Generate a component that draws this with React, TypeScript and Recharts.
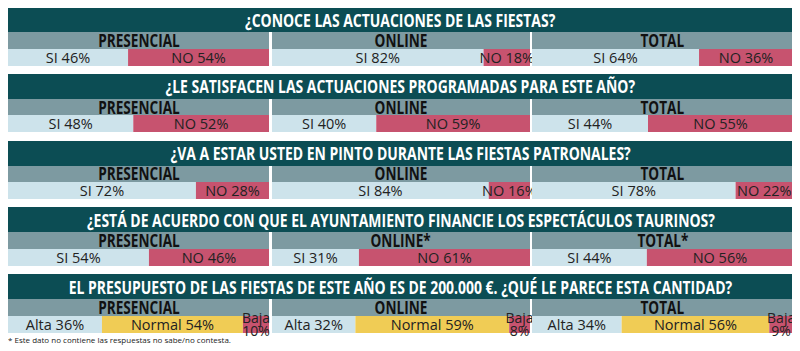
import { BarChart, Bar, XAxis, YAxis, LabelList } from 'recharts';

const QUESTIONS = [
  '¿CONOCE LAS ACTUACIONES DE LAS FIESTAS?',
  '¿LE SATISFACEN LAS ACTUACIONES PROGRAMADAS PARA ESTE AÑO?',
  '¿VA A ESTAR USTED EN PINTO DURANTE LAS FIESTAS PATRONALES?',
  '¿ESTÁ DE ACUERDO CON QUE EL AYUNTAMIENTO FINANCIE LOS ESPECTÁCULOS TAURINOS?',
  'EL PRESUPUESTO DE LAS FIESTAS DE ESTE AÑO ES DE 200.000 €. ¿QUÉ LE PARECE ESTA CANTIDAD?'
];

const GROUPS = ['PRESENCIAL', 'ONLINE', 'TOTAL'];
const GROUPS_STARRED = ['PRESENCIAL', 'ONLINE*', 'TOTAL*'];

// yes / no questions, one row per question: [presencial, online, total]
const SI = [
  [46, 82, 64],
  [48, 40, 44],
  [72, 84, 78],
  [54, 31, 44]
];
const NO = [
  [54, 18, 36],
  [52, 59, 55],
  [28, 16, 22],
  [46, 61, 56]
];

// budget question
const ALTA = [36, 32, 34];
const NORMAL = [54, 59, 56];
const BAJA = [10, 8, 9];

const FOOTNOTE = '* Este dato no contiene las respuestas no sabe/no contesta.';

const TEAL = '#0c4d54';
const GREY = '#7d9aa1';
const LIGHT = '#cde3eb';
const RED = '#c7536f';
const YELLOW = '#f0cc55';

const PANEL_W = [261, 258, 261];
const GAP = 2.5;
const FONT = '"Open Sans", "DejaVu Sans", sans-serif';

interface Segment {
  key: string;
  label: string;
  color: string;
  twoLines?: boolean;
}

const SegLabel = (props: any) => {
  const { x, y, width, height, value, label, twoLines } = props;
  const cx = Number(x) + Number(width) / 2;
  const cy = Number(y) + Number(height) / 2;
  if (twoLines) {
    return (
      <text x={cx} textAnchor="middle" fill="#222" fontSize={14} fontFamily={FONT}>
        <tspan x={cx} y={cy - 1.5}>{label}</tspan>
        <tspan x={cx} y={cy + 11}>{`${value}%`}</tspan>
      </text>
    );
  }
  return (
    <text x={cx} y={cy} dy="0.36em" textAnchor="middle" fill="#222" fontSize={14.5} fontFamily={FONT}>
      {`${label} ${value}%`}
    </text>
  );
};

// condensed bold heading text (no narrow face installed, so squeeze it)
function Squeezed({ text, scale }: { text: string; scale: number }) {
  return (
    <span style={{ display: 'inline-block', whiteSpace: 'nowrap', transform: `scaleX(${scale})` }}>{text}</span>
  );
}

function PanelBar({ width, row, segments }: { width: number; row: any; segments: Segment[] }) {
  return (
    <BarChart
      width={width}
      height={17}
      data={[row]}
      layout="vertical"
      margin={{ top: 0, right: 0, bottom: 0, left: 0 }}
      barCategoryGap={0}
      style={{ overflow: 'visible' }}
    >
      <XAxis type="number" hide domain={[0, 'dataMax']} />
      <YAxis type="category" dataKey="name" hide />
      {segments.map(s => (
        <Bar key={s.key} dataKey={s.key} stackId="a" fill={s.color} isAnimationActive={false}>
          <LabelList
            dataKey={s.key}
            content={(p: any) => <SegLabel {...p} label={s.label} twoLines={s.twoLines} />}
          />
        </Bar>
      ))}
    </BarChart>
  );
}

function Block({ title, groups, rows, segments }: { title: string; groups: string[]; rows: any[]; segments: Segment[] }) {
  return (
    <div style={{ marginBottom: 8.3 }}>
      <div
        style={{
          background: TEAL,
          color: '#fff',
          height: 25,
          display: 'flex',
          justifyContent: 'center',
          alignItems: 'center',
          paddingTop: 1,
          boxSizing: 'border-box',
          fontFamily: FONT,
          fontWeight: 'bold',
          fontSize: 17
        }}
      >
        <Squeezed text={title} scale={0.82} />
      </div>
      <div style={{ display: 'flex', gap: GAP }}>
        {groups.map((g, i) => (
          <div key={g} style={{ width: PANEL_W[i] }}>
            <div
              style={{
                background: GREY,
                height: 16.5,
                display: 'flex',
                justifyContent: 'center',
                alignItems: 'center',
                fontFamily: FONT,
                fontWeight: 'bold',
                fontSize: 17,
                color: '#111'
              }}
            >
              <Squeezed text={g} scale={0.8} />
            </div>
            <PanelBar width={PANEL_W[i]} row={rows[i]} segments={segments} />
          </div>
        ))}
      </div>
    </div>
  );
}

const YES_NO: Segment[] = [
  { key: 'si', label: 'SI', color: LIGHT },
  { key: 'no', label: 'NO', color: RED }
];

const BUDGET: Segment[] = [
  { key: 'alta', label: 'Alta', color: LIGHT },
  { key: 'normal', label: 'Normal', color: YELLOW },
  { key: 'baja', label: 'Baja', color: RED, twoLines: true }
];

export default function App() {
  return (
    <div style={{ width: 785, height: 343, marginTop: -1, position: 'relative' }}>
      <style>{'.recharts-surface{overflow:visible}'}</style>
      {SI.map((siRow, q) => (
        <Block
          key={q}
          title={QUESTIONS[q]}
          groups={q === 3 ? GROUPS_STARRED : GROUPS}
          rows={GROUPS.map((g, i) => ({ name: g, si: siRow[i], no: NO[q][i] }))}
          segments={YES_NO}
        />
      ))}
      <Block
        title={QUESTIONS[4]}
        groups={GROUPS}
        rows={GROUPS.map((g, i) => ({ name: g, alta: ALTA[i], normal: NORMAL[i], baja: BAJA[i] }))}
        segments={BUDGET}
      />
      <div
        style={{
          position: 'absolute',
          top: 327,
          left: 0,
          fontFamily: FONT,
          fontSize: 8,
          color: '#222'
        }}
      >
        {FOOTNOTE}
      </div>
    </div>
  );
}
